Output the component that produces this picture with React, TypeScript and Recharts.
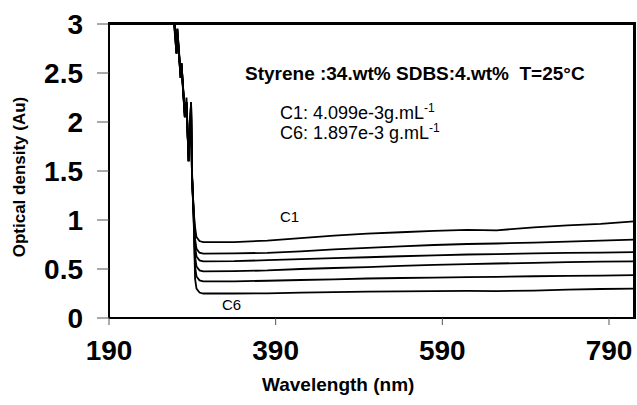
import React from "react";
import { LineChart, Line, XAxis, YAxis } from "recharts";

const wavelengths = [264, 268, 271, 272, 276, 277, 281, 283, 285.5, 288.5, 289.6, 291.5, 293.3, 295, 298.6, 303, 340, 380, 420, 460, 500, 540, 580, 620, 655, 700, 740, 780, 820];

const c1 = [3.4, 3.05, 2.7, 2.95, 2.45, 2.6, 2.05, 2.2, 1.6, 2.2, 1.45, 1.1, 0.925, 0.825, 0.785, 0.775, 0.775, 0.79, 0.815, 0.84, 0.86, 0.875, 0.89, 0.9, 0.895, 0.925, 0.945, 0.96, 0.985];
const c2 = [3.4, 3.1, 2.75, 2.9, 2.5, 2.55, 2.1, 2.15, 1.65, 2.1, 1.45, 1.1, 0.806, 0.706, 0.666, 0.656, 0.66, 0.665, 0.68, 0.7, 0.715, 0.73, 0.745, 0.755, 0.76, 0.77, 0.78, 0.79, 0.8];
const c3 = [3.4, 3.0, 2.7, 2.95, 2.45, 2.6, 2.05, 2.25, 1.6, 2.2, 1.5, 1.1, 0.728, 0.628, 0.588, 0.578, 0.58, 0.59, 0.6, 0.61, 0.62, 0.63, 0.64, 0.648, 0.652, 0.66, 0.665, 0.668, 0.673];
const c4 = [3.4, 3.05, 2.75, 2.9, 2.45, 2.55, 2.05, 2.2, 1.6, 2.15, 1.45, 1.05, 0.626, 0.526, 0.486, 0.476, 0.478, 0.485, 0.5, 0.51, 0.52, 0.532, 0.542, 0.55, 0.556, 0.563, 0.57, 0.575, 0.578];
const c5 = [3.4, 3.05, 2.7, 2.95, 2.5, 2.6, 2.1, 2.2, 1.65, 2.2, 1.45, 1.05, 0.524, 0.424, 0.384, 0.374, 0.374, 0.38, 0.388, 0.395, 0.403, 0.408, 0.413, 0.418, 0.42, 0.426, 0.43, 0.433, 0.437];
const c6 = [3.4, 3.1, 2.7, 2.9, 2.45, 2.6, 2.05, 2.2, 1.6, 2.2, 1.45, 1.05, 0.4, 0.3, 0.26, 0.25, 0.25, 0.252, 0.258, 0.265, 0.27, 0.272, 0.275, 0.277, 0.275, 0.28, 0.29, 0.296, 0.3];

const xTicks = [190, 390, 590, 790];
const yTicks = [0, 0.5, 1, 1.5, 2, 2.5, 3];
const seriesKeys = ["c1", "c2", "c3", "c4", "c5", "c6"];

const data = wavelengths.map((w, i) => ({
  w,
  c1: c1[i],
  c2: c2[i],
  c3: c3[i],
  c4: c4[i],
  c5: c5[i],
  c6: c6[i],
}));

const font = "Arial, 'Liberation Sans', sans-serif";
const tickStyle = { fontSize: 28, fontWeight: 700, fill: "#000", fontFamily: font };
const axisLine = { stroke: "#000", strokeWidth: 2 };
const tickLine = { stroke: "#555", strokeWidth: 1 };

export default function App() {
  return (
    <div style={{ position: "fixed", left: 0, top: 0, width: 637, height: 405, background: "#fff", fontFamily: font, overflow: "hidden" }}>
      <LineChart width={637} height={405} data={data} margin={{ top: 24, right: 3, left: 0, bottom: 0 }}>
        <XAxis
          dataKey="w"
          type="number"
          domain={[190, 820]}
          ticks={xTicks}
          allowDataOverflow
          height={87}
          tick={tickStyle}
          tickSize={7}
          tickMargin={15}
          axisLine={axisLine}
          tickLine={tickLine}
        />
        <YAxis
          type="number"
          domain={[0, 3]}
          ticks={yTicks}
          allowDataOverflow
          width={109}
          tick={tickStyle}
          tickSize={12}
          tickMargin={14}
          axisLine={axisLine}
          tickLine={tickLine}
        />
        {seriesKeys.map((k) => (
          <Line key={k} dataKey={k} type="linear" stroke="#000" strokeWidth={1.8} dot={false} isAnimationActive={false} />
        ))}
      </LineChart>
      {/* top and right edges of the plot frame */}
      <div style={{ position: "absolute", left: 108, top: 22, width: 528, height: 3, background: "#000" }} />
      <div style={{ position: "absolute", left: 633, top: 22, width: 3, height: 297, background: "#000" }} />
      <div style={{ position: "absolute", left: 245, top: 63, fontSize: 19, fontWeight: 700, whiteSpace: "pre" }}>
        {"Styrene :34.wt% SDBS:4.wt%  T=25\u00b0C"}
      </div>
      <div style={{ position: "absolute", left: 280, top: 101, fontSize: 18, whiteSpace: "pre" }}>
        C1: 4.099e-3g.mL<sup style={{ fontSize: 12 }}>-1</sup>
      </div>
      <div style={{ position: "absolute", left: 280, top: 121, fontSize: 18, whiteSpace: "pre" }}>
        C6: 1.897e-3 g.mL<sup style={{ fontSize: 12 }}>-1</sup>
      </div>
      <div style={{ position: "absolute", left: 280, top: 208, fontSize: 15 }}>C1</div>
      <div style={{ position: "absolute", left: 222, top: 296, fontSize: 15 }}>C6</div>
      <div style={{ position: "absolute", left: 262, top: 374, fontSize: 19, fontWeight: 700, whiteSpace: "pre" }}>
        Wavelength (nm)
      </div>
      <div
        style={{
          position: "absolute",
          left: 20,
          top: 177,
          fontSize: 17,
          fontWeight: 700,
          whiteSpace: "pre",
          transform: "translate(-50%, -50%) rotate(-90deg)",
        }}
      >
        Optical density (Au)
      </div>
    </div>
  );
}
